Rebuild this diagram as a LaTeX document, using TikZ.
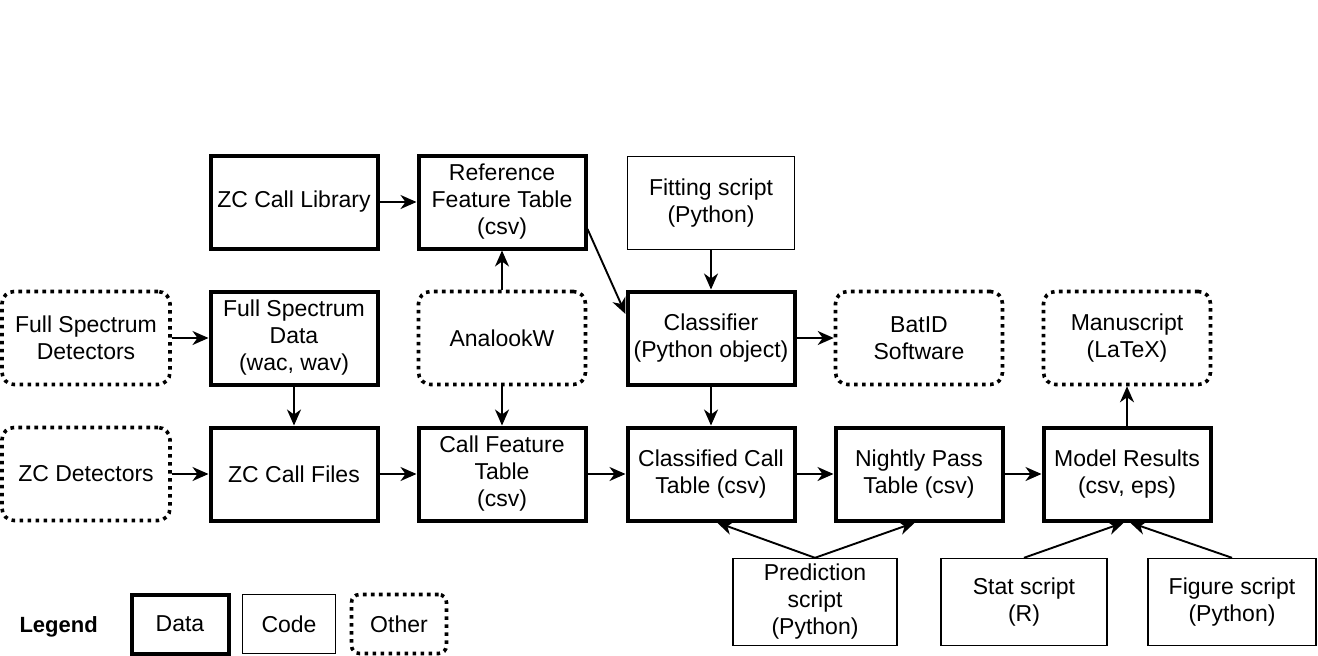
\documentclass[tikz,border=0pt]{standalone}
\usepackage{fontspec}
\setmainfont{Liberation Sans}
\usetikzlibrary{arrows.meta}
\begin{document}
\begin{tikzpicture}[x=1pt,y=-1pt,
  box/.style={align=center, inner sep=0pt, minimum width=167pt, minimum height=93pt, font=\fontsize{23}{27}\selectfont},
  data/.style={box, draw, line width=4pt},
  code/.style={box, draw, line width=1.4pt, minimum height=87pt},
  other/.style={box, draw, line width=3.6pt, dash pattern=on 3.6pt off 4.4pt, rounded corners=12pt},
  arr/.style={line width=1.9pt, -{Stealth[length=16pt,width=14pt,inset=5pt]}}
]
\useasboundingbox (0,0) rectangle (1318,656);

% row 1
\node[data] (lib) at (294,202) {ZC Call Library};
\node[data] (ref) at (502,202) {Reference\\Feature Table\\(csv)};
\node[code, minimum height=93pt] (fit) at (711,203) {Fitting script\\(Python)};

% row 2
\node[other, minimum width=168pt] (fsd) at (86,338) {Full Spectrum\\Detectors};
\node[data] (fsdata) at (294,338) {Full Spectrum\\Data\\(wac, wav)};
\node[other] (ana) at (502,338) {AnalookW};
\node[data] (cls) at (711,338) {Classifier\\(Python object)};
\node[other] (bat) at (919,338) {BatID\\Software};
\node[other] (man) at (1127,338) {Manuscript\\(LaTeX)};

% row 3
\node[other, minimum width=168pt] (zcd) at (86,474) {ZC Detectors};
\node[data] (zcf) at (294,474) {ZC Call Files};
\node[data] (cft) at (502,474) {Call Feature\\Table\\(csv)};
\node[data] (cct) at (711,474) {Classified Call\\Table (csv)};
\node[data] (npt) at (919,474) {Nightly Pass\\Table (csv)};
\node[data] (mod) at (1127,474) {Model Results\\(csv, eps)};

% scripts
\node[code, minimum width=164pt] (pred) at (815,602) {Prediction\\script\\(Python)};
\node[code, minimum width=166pt] (stat) at (1024,602) {Stat script\\(R)};
\node[code, minimum width=168pt] (figs) at (1232,602) {Figure script\\(Python)};

% legend
\node[font=\fontsize{22}{26}\selectfont\bfseries, anchor=west] (leg) at (16,627) {Legend};
\node[data, minimum width=97pt, minimum height=59pt] (ldata) at (180,624) {Data};
\node[code, minimum width=93pt, minimum height=59pt] (lcode) at (289,624) {Code};
\node[other, minimum width=95pt, minimum height=59pt, rounded corners=8pt] (lother) at (399,624) {Other};

% connectors
\draw[arr] (lib) -- (ref);
\draw[arr] (fsd) -- (fsdata);
\draw[arr] (fsdata) -- (zcf);
\draw[arr] (zcd) -- (zcf);
\draw[arr] (zcf) -- (cft);
\draw[arr] (ana) -- (ref);
\draw[arr] (ana) -- (cft);
\draw[arr] ([yshift=-27pt]ref.east) -- ([yshift=24pt]cls.west);
\draw[arr] (fit) -- (cls);
\draw[arr] (cls) -- (bat);
\draw[arr] (cls) -- (cct);
\draw[arr] (cft) -- (cct);
\draw[arr] (cct) -- (npt);
\draw[arr] (npt) -- (mod);
\draw[arr] (mod) -- (man);
\draw[arr] (pred.north) -- ([xshift=6pt]cct.south);
\draw[arr] (pred.north) -- ([xshift=-4pt]npt.south);
\draw[arr] (stat.north) -- ([xshift=-3pt]mod.south);
\draw[arr] (figs.north) -- ([xshift=3pt]mod.south);
\end{tikzpicture}
\end{document}
